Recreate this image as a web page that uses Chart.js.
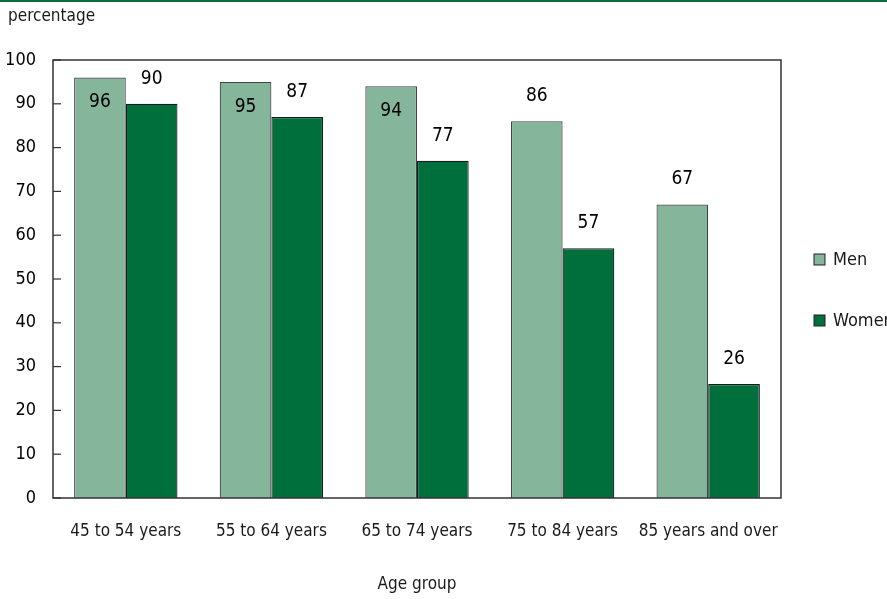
<!DOCTYPE html>
<html>
<head>
<meta charset="utf-8">
<script src="https://cdn.jsdelivr.net/npm/chart.js@4/dist/chart.umd.min.js"></script>
<style>
  body { margin: 0; background: #fff; }
  #wrap { position: relative; width: 887px; height: 599px; }
  #topline { position: absolute; left: 0; top: 0; width: 887px; height: 2px; background: #0b6e3d; }
  #unit { position: absolute; left: 8px; top: 5px; font: 17px "DejaVu Sans Condensed", "Liberation Sans Narrow", sans-serif; color: #1a1a1a; }
</style>
</head>
<body>
<div id="wrap">
  <div id="topline"></div>
  <div id="unit">percentage</div>
  <canvas id="chart" width="887" height="599"></canvas>
</div>
<script>
const ageGroups = ["45 to 54 years", "55 to 64 years", "65 to 74 years", "75 to 84 years", "85 years and over"];
const men = [96, 95, 94, 86, 67];
const women = [90, 87, 77, 57, 26];
const yTicks = [0, 10, 20, 30, 40, 50, 60, 70, 80, 90, 100];

const fontFamily = '"DejaVu Sans Condensed", "Liberation Sans Narrow", sans-serif';

// labels for the first three men bars sit inside the bar
const insideLabels = { 0: [true, true, true, false, false], 1: [false, false, false, false, false] };

const extras = {
  id: "extras",
  afterDatasetsDraw(chart) {
    const ctx = chart.ctx;
    const area = chart.chartArea;
    const y = chart.scales.y;
    ctx.save();
    // frame
    ctx.strokeStyle = "#333";
    ctx.lineWidth = 1.5;
    ctx.strokeRect(area.left, area.top, area.right - area.left, area.bottom - area.top);
    // inward ticks
    ctx.lineWidth = 1.2;
    yTicks.forEach(v => {
      const py = y.getPixelForValue(v);
      ctx.beginPath();
      ctx.moveTo(area.left, py);
      ctx.lineTo(area.left + 8, py);
      ctx.stroke();
    });
    // value labels
    ctx.fillStyle = "#000";
    ctx.font = "19px " + fontFamily;
    ctx.textAlign = "center";
    ctx.textBaseline = "middle";
    chart.data.datasets.forEach((ds, di) => {
      chart.getDatasetMeta(di).data.forEach((bar, i) => {
        const off = insideLabels[di][i] ? 25 : -25;
        ctx.fillText(ds.data[i], bar.x, bar.y + off);
      });
    });
    // legend
    ctx.font = "18px " + fontFamily;
    ctx.textAlign = "left";
    const legendY = [260, 321];
    chart.data.datasets.forEach((ds, di) => {
      const ly = legendY[di];
      ctx.fillStyle = ds.backgroundColor;
      ctx.fillRect(814, ly - 6, 11, 11);
      ctx.strokeStyle = "#222";
      ctx.lineWidth = 1;
      ctx.strokeRect(814, ly - 6, 11, 11);
      ctx.fillStyle = "#1a1a1a";
      ctx.fillText(ds.label, 833, ly);
    });
    ctx.restore();
  }
};

new Chart(document.getElementById("chart"), {
  type: "bar",
  data: {
    labels: ageGroups,
    datasets: [
      { label: "Men", data: men, backgroundColor: "#85b59b", borderColor: "#444", borderWidth: 1.2 },
      { label: "Women", data: women, backgroundColor: "#006f3b", borderColor: "#1a1a1a", borderWidth: 1.2 }
    ]
  },
  options: {
    responsive: false,
    animation: false,
    layout: { padding: { top: 60, right: 106, left: 0, bottom: 0 } },
    datasets: { bar: { categoryPercentage: 0.71, barPercentage: 1 } },
    plugins: { legend: { display: false }, tooltip: { enabled: false } },
    scales: {
      x: {
        grid: { display: false, drawTicks: false },
        border: { display: false },
        ticks: { color: "#1a1a1a", padding: 23, maxRotation: 0, minRotation: 0, autoSkip: false, font: { family: fontFamily, size: 17 } },
        title: { display: true, text: "Age group", color: "#1a1a1a", padding: { top: 30 }, font: { family: fontFamily, size: 17 } },
        afterFit(s) { s.height = 101; }
      },
      y: {
        min: 0, max: 100,
        grid: { display: false, drawTicks: false },
        border: { display: false },
        afterBuildTicks(s) { s.ticks = yTicks.map(v => ({ value: v })); },
        ticks: { color: "#000", padding: 17, font: { family: fontFamily, size: 18 } },
        afterFit(s) { s.width = 53; }
      }
    }
  },
  plugins: [extras]
});
</script>
</body>
</html>
